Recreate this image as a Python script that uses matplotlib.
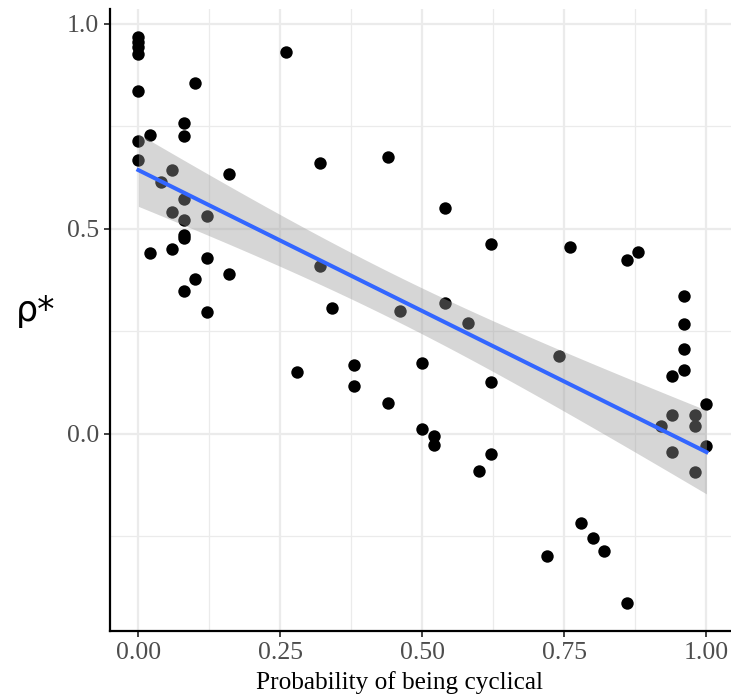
import numpy as np
import matplotlib
matplotlib.use('Agg')
import matplotlib.pyplot as plt

# probability of being cyclical vs rho*
prob = [0, 0, 0, 0, 0, 0.10, 0.26, 0.08, 0.02, 0.08,
        0, 0, 0.32, 0.06, 0.16, 0.04, 0.08, 0.06, 0.12, 0.08,
        0.08, 0.08, 0.02, 0.06, 0.12, 0.32, 0.10, 0.16, 0.08, 0.34,
        0.12, 0.44, 0.54, 0.62, 0.76, 0.46, 0.54, 0.58, 0.74, 0.38,
        0.38, 0.50, 0.62, 0.28, 0.44, 0.50, 0.52, 0.52, 0.62, 0.60,
        0.72, 0.78, 0.80, 0.82, 0.86, 0.86, 0.88, 0.96, 0.96, 0.96,
        0.96, 0.94, 1.00, 0.94, 0.98, 0.98, 0.92, 1.00, 0.94, 0.98]
rho = [0.967, 0.955, 0.943, 0.927, 0.835, 0.856, 0.932, 0.758, 0.728, 0.725,
       0.713, 0.667, 0.660, 0.644, 0.634, 0.614, 0.573, 0.540, 0.530, 0.520,
       0.484, 0.476, 0.440, 0.451, 0.428, 0.408, 0.378, 0.390, 0.347, 0.307,
       0.297, 0.676, 0.550, 0.462, 0.454, 0.298, 0.318, 0.270, 0.189, 0.168,
       0.117, 0.172, 0.126, 0.150, 0.075, 0.011, -0.007, -0.028, -0.049, -0.092,
       -0.299, -0.218, -0.254, -0.286, -0.413, 0.423, 0.443, 0.335, 0.267, 0.206,
       0.156, 0.140, 0.071, 0.046, 0.045, 0.019, 0.019, -0.031, -0.046, -0.095]

x_ticks = [0.0, 0.25, 0.5, 0.75, 1.0]
x_labels = ['0.00', '0.25', '0.50', '0.75', '1.00']
y_ticks = [0.0, 0.5, 1.0]
y_labels = ['0.0', '0.5', '1.0']

x = np.array(prob)
y = np.array(rho)

# linear fit + 95% confidence band (like geom_smooth(method='lm'))
n = len(x)
slope, intercept = np.polyfit(x, y, 1)
resid = y - (slope * x + intercept)
s = np.sqrt(np.sum(resid ** 2) / (n - 2))
xs = np.linspace(x.min(), x.max(), 100)
ys = slope * xs + intercept
se = s * np.sqrt(1 / n + (xs - x.mean()) ** 2 / np.sum((x - x.mean()) ** 2))
t_val = 1.995
lo = ys - t_val * se
hi = ys + t_val * se

fig = plt.figure(figsize=(7.31, 7.0), dpi=100)
ax = fig.add_axes([110 / 731, 69 / 700, 621 / 731, 622 / 700])

serif = ['Liberation Serif', 'DejaVu Serif']

ax.set_xlim(-0.05, -0.05 + 621 / 568)
ax.set_ylim(-0.482, 1.036)

ax.set_xticks(x_ticks)
ax.set_xticklabels(x_labels, family=serif, fontsize=18.5, color='#4D4D4D')
ax.set_yticks(y_ticks)
ax.set_yticklabels(y_labels, family=serif, fontsize=18.5, color='#4D4D4D')
ax.set_xticks([0.125, 0.375, 0.625, 0.875], minor=True)
ax.set_yticks([-0.25, 0.25, 0.75], minor=True)
ax.tick_params(which='major', length=4, width=1.3, color='#333333', pad=4)
ax.tick_params(which='minor', length=0)

ax.grid(which='major', color='#EBEBEB', linewidth=1.6)
ax.grid(which='minor', color='#EBEBEB', linewidth=0.9)
ax.set_axisbelow(True)

for side in ['top', 'right']:
    ax.spines[side].set_visible(False)
for side in ['left', 'bottom']:
    ax.spines[side].set_linewidth(1.6)
    ax.spines[side].set_color('black')

ax.scatter(x, y, s=80, color='black', linewidths=0, zorder=2)
ax.fill_between(xs, lo, hi, color='#999999', alpha=0.4, linewidth=0, zorder=3)
ax.plot(xs, ys, color='#3366FF', linewidth=2.9, zorder=4)

ax.set_xlabel('Probability of being cyclical', family=serif, fontsize=18.2)
ax.xaxis.set_label_coords((400 - 110) / 621, -0.064)
ax.set_ylabel('ρ*', fontsize=25, rotation=0, va='center', ha='center')
ax.yaxis.set_label_coords(-0.12, 0.515)

fig.savefig('out.png', dpi=100)
